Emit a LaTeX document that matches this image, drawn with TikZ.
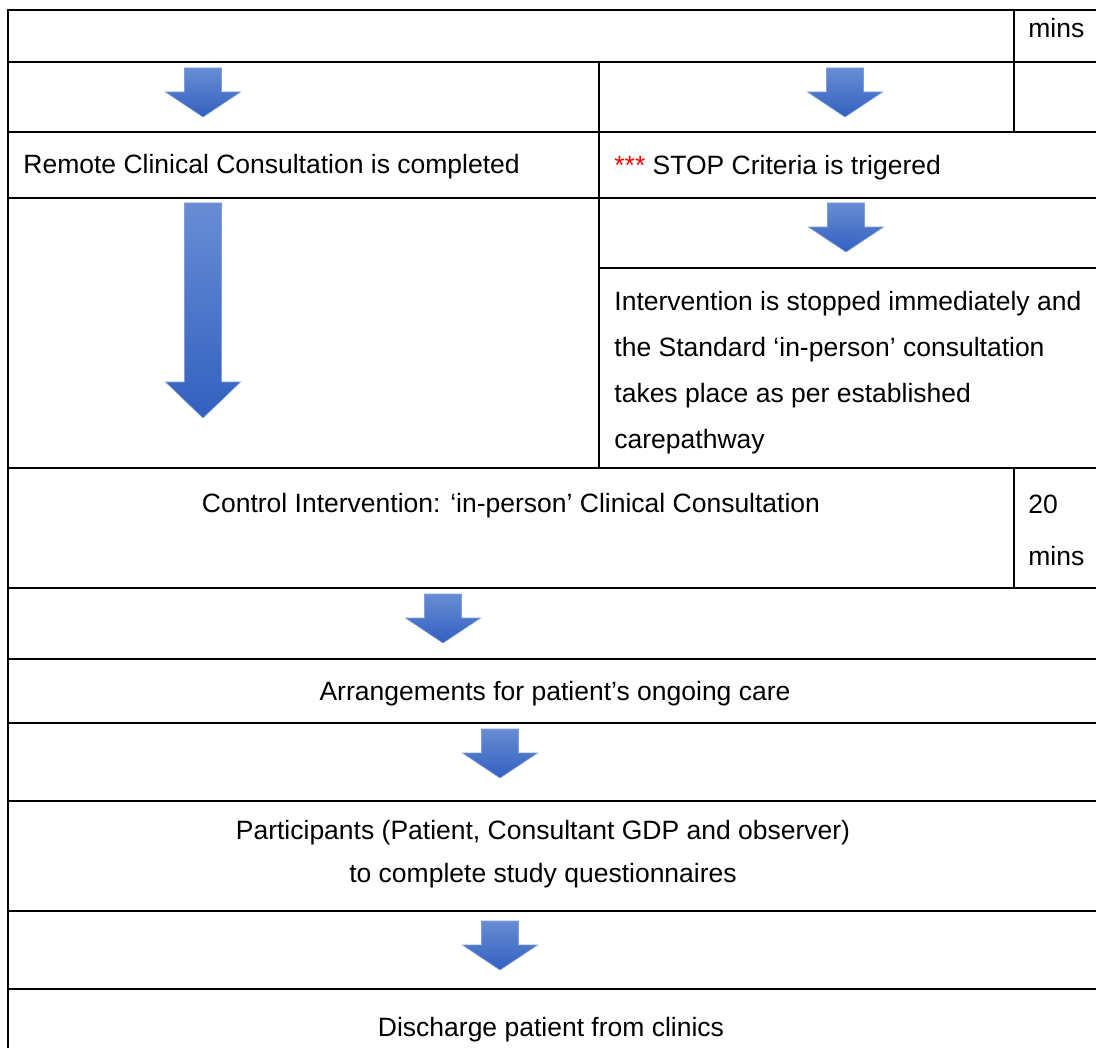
\documentclass[tikz,border=0pt]{standalone}
\usepackage{fontspec}
\setmainfont{Liberation Sans}
\usepackage{xcolor}
\usetikzlibrary{positioning}
\definecolor{arrowtop}{RGB}{104,141,212}
\definecolor{arrowbot}{RGB}{50,96,192}
\definecolor{arrowedge}{RGB}{125,158,222}
\begin{document}
\begin{tikzpicture}[x=0.5pt, y=-0.5pt,
  rule/.style={line width=1pt},
  txt/.style={inner sep=0pt, font=\fontsize{13.25}{23}\selectfont},
  pics/darrow/.style 2 args={code={
    \draw[arrowedge, line width=0.3pt, top color=arrowtop, bottom color=arrowbot]
      (-18.5,0) -- (18.5,0) -- (18.5,#1-#2) -- (37.5,#1-#2) -- (0,#1)
      -- (-37.5,#1-#2) -- (-18.5,#1-#2) -- cycle;
  }}
]
  \useasboundingbox (0,0) rectangle (1096,1048);
  % table rules
  \draw[rule] (8,1048) -- (8,10) -- (1096,10);
  \draw[rule] (8,62) -- (1096,62);
  \draw[rule] (8,132) -- (1096,132);
  \draw[rule] (8,198) -- (1096,198);
  \draw[rule] (599,268) -- (1096,268);
  \draw[rule] (8,468) -- (1096,468);
  \draw[rule] (8,588) -- (1096,588);
  \draw[rule] (8,659) -- (1096,659);
  \draw[rule] (8,723) -- (1096,723);
  \draw[rule] (8,801) -- (1096,801);
  \draw[rule] (8,911) -- (1096,911);
  \draw[rule] (8,989) -- (1096,989);
  \draw[rule] (599,62) -- (599,468);
  \draw[rule] (1014,10) -- (1014,132);
  \draw[rule] (1014,468) -- (1014,588);

  % cell texts
  \node[txt, anchor=base west] (minsTop) at (1028,38) {mins};
  \node[txt, anchor=base west] (remote) at (23,174) {Remote Clinical Consultation is completed};
  \node[txt, anchor=base west] (stop) at (614,175) {\textcolor{red}{***} STOP Criteria is trigered};
  \node[txt, anchor=north west, align=left] (halt) at (614,291)
    {Intervention is stopped immediately and\\the Standard ‘in-person’ consultation\\takes place as per established\\carepathway};
  \node[txt, anchor=base] (control) at (511,512) {Control Intervention: ‘in-person’ Clinical Consultation};
  \node[txt, anchor=north west, align=left, font=\fontsize{13.25}{26}\selectfont] (time) at (1028,495) {20\\mins};
  \node[txt, anchor=base] (arrange) at (555,700) {Arrangements for patient’s ongoing care};
  \node[txt, anchor=north, align=center, font=\fontsize{13.25}{21.5}\selectfont] (quest) at (543,820)
    {Participants (Patient, Consultant GDP and observer)\\to complete study questionnaires};
  \node[txt, anchor=base] (discharge) at (551,1036) {Discharge patient from clinics};

  % block arrows
  \pic (toRemote) at (203,68) {darrow={49}{25}};
  \pic (toStop) at (845,68) {darrow={49}{25}};
  \pic (toControl) at (203,203) {darrow={215}{36}};
  \pic (toHalt) at (846,203) {darrow={49}{25}};
  \pic (toArrange) at (443,594) {darrow={49}{25}};
  \pic (toQuest) at (500,729) {darrow={49}{25}};
  \pic (toDischarge) at (500,921) {darrow={49}{25}};
\end{tikzpicture}
\end{document}
